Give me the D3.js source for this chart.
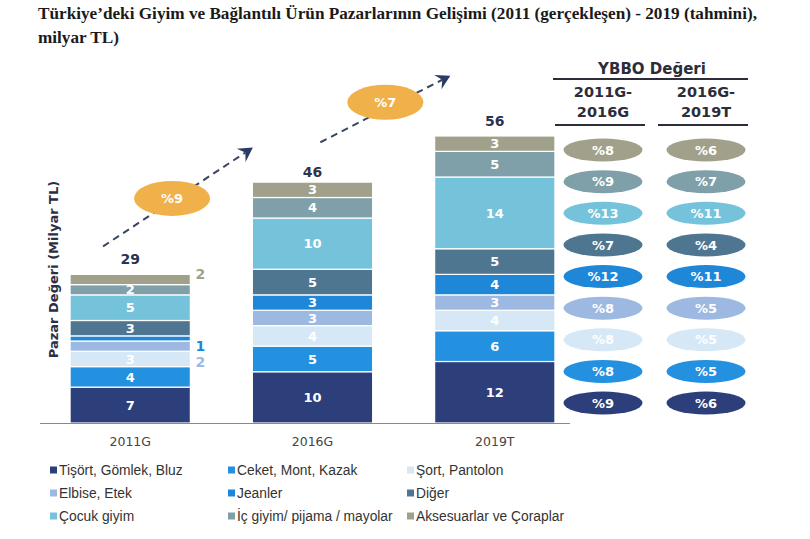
<!DOCTYPE html>
<html><head><meta charset="utf-8">
<script src="https://cdn.jsdelivr.net/npm/d3@7"></script>
<style>body{margin:0;background:#fff} svg{display:block}</style>
</head><body>
<script>
// ---------- DATA ----------
const categories = ["2011G", "2016G", "2019T"];
const seriesNames = ["Tişört, Gömlek, Bluz", "Ceket, Mont, Kazak", "Şort, Pantolon",
  "Elbise, Etek", "Jeanler", "Diğer", "Çocuk giyim", "İç giyim/ pijama / mayolar", "Aksesuarlar ve Çoraplar"];
const tisort   = [7, 10, 12];
const ceket    = [4, 5, 6];
const sort     = [3, 4, 4];
const elbise   = [2, 3, 3];
const jeanler  = [1, 3, 4];
const diger    = [3, 5, 5];
const cocuk    = [5, 10, 14];
const icgiyim  = [2, 4, 5];
const aksesuar = [2, 3, 3];
const totals = [29, 46, 56];
const totalCagr = [9, 7];
// CAGR per series (series order)
const cagr2011_2016 = [9, 8, 8, 8, 12, 7, 13, 9, 8];
const cagr2016_2019 = [6, 5, 5, 5, 11, 4, 11, 7, 6];
const cagrTitle = "YBBO Değeri";
const cagrHeaders = [["2011G-", "2016G"], ["2016G-", "2019T"]];
const titleLines = ["Türkiye’deki Giyim ve Bağlantılı Ürün Pazarlarının Gelişimi (2011 (gerçekleşen) - 2019 (tahmini),", "milyar TL)"];
const yTitle = "Pazar Değeri (Milyar TL)";

const seriesValues = [tisort, ceket, sort, elbise, jeanler, diger, cocuk, icgiyim, aksesuar];
const colors = ["#2c3f7a", "#2390e0", "#d6e8f6", "#9db9e2", "#1f87d8", "#4f7690", "#75c3db", "#7fa0a8", "#a1a18b"];

// ---------- SETUP ----------
const W = 810, H = 539;
const svg = d3.select("body").append("svg").attr("width", W).attr("height", H);
const boldFont = "'DejaVu Sans', sans-serif";

// title
svg.append("g").selectAll("text").data(titleLines).join("text")
  .attr("x", 38).attr("y", (d, i) => 19 + i * 24)
  .attr("font-family", "'Liberation Serif', serif").attr("font-weight", "bold")
  .attr("font-size", 17.2).attr("fill", "#1a1a1a").text(d => d);

// scales
const x = d3.scaleBand().domain(categories).range([40, 585]).paddingInner(0.34).paddingOuter(0.165);
const y = d3.scaleLinear().domain([0, 56]).range([423, 136]);

const rows = categories.map((c, i) => {
  const o = { cat: c };
  seriesNames.forEach((s, j) => o[s] = seriesValues[j][i]);
  return o;
});
const stacked = d3.stack().keys(seriesNames)(rows);

// bars
const gBars = svg.append("g");
stacked.forEach((layer, j) => {
  gBars.selectAll(null).data(layer).join("rect")
    .attr("x", d => x(d.data.cat)).attr("width", x.bandwidth())
    .attr("y", d => y(d[1])).attr("height", d => y(d[0]) - y(d[1]))
    .attr("fill", colors[j]).attr("stroke", "#fff").attr("stroke-width", 1.2);
});

// segment labels
const outside = { "2011G": { 3: 16, 4: 8, 8: -6 } };
stacked.forEach((layer, j) => {
  layer.forEach(d => {
    const cat = d.data.cat;
    const cy = (y(d[0]) + y(d[1])) / 2;
    const v = d[1] - d[0];
    const off = outside[cat] && outside[cat][j];
    if (off !== undefined) {
      svg.append("text").attr("x", x(cat) + x.bandwidth() + 10).attr("y", cy + off)
        .attr("dy", "0.36em").attr("text-anchor", "middle")
        .attr("font-family", boldFont).attr("font-weight", "bold").attr("font-size", 14)
        .attr("fill", colors[j]).text(v);
    } else {
      svg.append("text").attr("x", x(cat) + x.bandwidth() / 2).attr("y", cy)
        .attr("dy", "0.36em").attr("text-anchor", "middle")
        .attr("font-family", boldFont).attr("font-weight", "bold").attr("font-size", 13)
        .attr("fill", "#fff").text(v);
    }
  });
});

// totals
svg.append("g").selectAll("text").data(categories).join("text")
  .attr("x", d => x(d) + x.bandwidth() / 2).attr("y", (d, i) => y(totals[i]) - 15)
  .attr("dy", "0.36em").attr("text-anchor", "middle")
  .attr("font-family", boldFont).attr("font-weight", "bold").attr("font-size", 14)
  .attr("fill", "#2b3350").text((d, i) => totals[i]);

// x axis
const axis = svg.append("g").attr("transform", `translate(0,${y(0)})`)
  .call(d3.axisBottom(x).tickSize(0).tickPadding(14));
axis.select(".domain").remove();
axis.selectAll("text").attr("font-family", boldFont).attr("font-size", 12.5).attr("fill", "#444");
svg.append("line").attr("x1", 40).attr("x2", 570).attr("y1", y(0) + 0.5).attr("y2", y(0) + 0.5)
  .attr("stroke", "#8a8a8a").attr("stroke-width", 1);

// y title
svg.append("text").attr("transform", `translate(53,${(y(0) + y(56)) / 2 - 10}) rotate(-90)`)
  .attr("text-anchor", "middle").attr("dy", "0.36em")
  .attr("font-family", boldFont).attr("font-weight", "bold").attr("font-size", 13)
  .attr("fill", "#2b2f45").text(yTitle);

// growth arrows
function arrow(x1, y1, x2, y2) {
  const ang = Math.atan2(y2 - y1, x2 - x1);
  const len = Math.hypot(x2 - x1, y2 - y1);
  svg.append("line").attr("x1", x1).attr("y1", y1)
    .attr("x2", x1 + Math.cos(ang) * (len - 6)).attr("y2", y1 + Math.sin(ang) * (len - 6))
    .attr("stroke", "#3a4660").attr("stroke-width", 2).attr("stroke-dasharray", "7,5");
  svg.append("path").attr("d", "M-11,-8 L3,0 L-11,8 L-6,0 Z")
    .attr("transform", `translate(${x2},${y2}) rotate(${ang * 180 / Math.PI})`)
    .attr("fill", "#2b3a66");
}
function growthOval(cx, cy, v) {
  svg.append("ellipse").attr("cx", cx).attr("cy", cy).attr("rx", 38).attr("ry", 17.5).attr("fill", "#f0b04a");
  svg.append("text").attr("x", cx).attr("y", cy).attr("dy", "0.36em").attr("text-anchor", "middle")
    .attr("font-family", boldFont).attr("font-weight", "bold").attr("font-size", 13)
    .attr("fill", "#fff").text("%" + v);
}
arrow(x(categories[0]) + 33, y(totals[0]) - 28, x(categories[1]) - 2, y(totals[1]) - 38);
growthOval(x(categories[0]) + 102, y(totals[0]) - 76, totalCagr[0]);
arrow(x(categories[1]) + 68, y(totals[1]) - 45, x(categories[2]) + 13, y(totals[2]) - 59);
growthOval(x(categories[1]) + 133, y(totals[1]) - 85, totalCagr[1]);

// CAGR table
const colX = [603, 706];
svg.append("text").attr("x", 652).attr("y", 69).attr("dy", "0.36em").attr("text-anchor", "middle")
  .attr("font-family", boldFont).attr("font-weight", "bold").attr("font-size", 15)
  .attr("fill", "#2d2d3a").text(cagrTitle);
svg.append("line").attr("x1", 553).attr("x2", 748).attr("y1", 79).attr("y2", 79)
  .attr("stroke", "#2d2d3a").attr("stroke-width", 2);
cagrHeaders.forEach((h, k) => {
  h.forEach((t, r) => {
    svg.append("text").attr("x", colX[k]).attr("y", 92 + r * 20).attr("dy", "0.36em").attr("text-anchor", "middle")
      .attr("font-family", boldFont).attr("font-weight", "bold").attr("font-size", 14.5)
      .attr("fill", "#2d2d3a").text(t);
  });
  svg.append("line").attr("x1", colX[k] - 48).attr("x2", colX[k] + 42).attr("y1", 125).attr("y2", 125)
    .attr("stroke", "#2d2d3a").attr("stroke-width", 2);
});
const rowOrder = d3.range(seriesNames.length).reverse();
const ry = d3.scalePoint().domain(rowOrder).range([150, 403]);
[cagr2011_2016, cagr2016_2019].forEach((arr, k) => {
  rowOrder.forEach(j => {
    svg.append("ellipse").attr("cx", colX[k]).attr("cy", ry(j)).attr("rx", 39.5).attr("ry", 11.5)
      .attr("fill", colors[j]);
    svg.append("text").attr("x", colX[k]).attr("y", ry(j)).attr("dy", "0.36em").attr("text-anchor", "middle")
      .attr("font-family", boldFont).attr("font-weight", "bold").attr("font-size", 13)
      .attr("fill", "#fff").text("%" + arr[j]);
  });
});

// legend
const legX = [50, 228, 407];
const legY = [470, 493, 516];
seriesNames.forEach((s, j) => {
  const cx = legX[j % 3], cy = legY[Math.floor(j / 3)];
  svg.append("rect").attr("x", cx).attr("y", cy - 3.5).attr("width", 7).attr("height", 7).attr("fill", colors[j]);
  svg.append("text").attr("x", cx + 9).attr("y", cy).attr("dy", "0.36em")
    .attr("font-family", "'Liberation Sans', Arial, sans-serif").attr("font-size", 13.8)
    .attr("fill", "#333").text(s);
});
</script>
</body></html>
